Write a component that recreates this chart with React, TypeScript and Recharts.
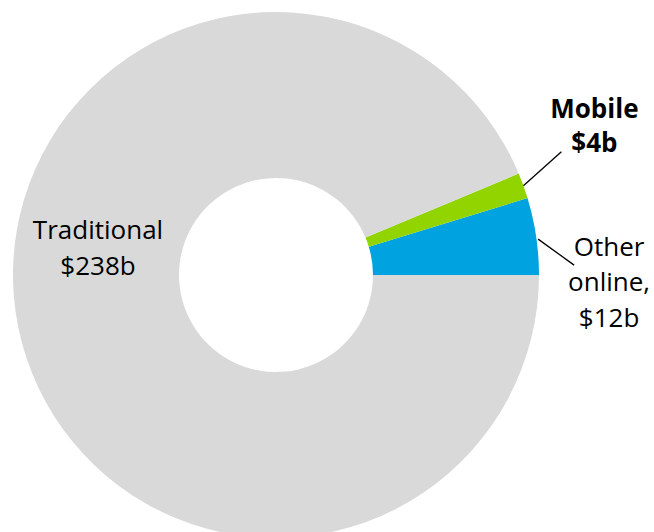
import React from 'react';
import { PieChart, Pie, Cell } from 'recharts';

const categories = ['Other online', 'Mobile', 'Traditional'];
const values = [12, 4, 238];
const labelLines: string[][] = [['Other', 'online,', '$12b'], ['Mobile', '$4b'], ['Traditional', '$238b']];
const colors = ['#00A3E0', '#92D400', '#D9D9D9'];

const data = categories.map((name, i) => ({ name, value: values[i] }));

const RAD = Math.PI / 180;
const FONT = '"Open Sans", sans-serif';
const FS = 26;

const renderLabel = (props: any) => {
  const { cx, cy, midAngle, outerRadius, index } = props;
  const lines = labelLines[index];
  if (index === 2) {
    return (
      <text x={cx - 178} y={cy - 36} textAnchor="middle" fontFamily={FONT} fontSize={FS} fill="#000">
        {lines.map((l, i) => (
          <tspan key={i} x={cx - 178} dy={i === 0 ? 0 : 36}>{l}</tspan>
        ))}
      </text>
    );
  }
  const sx = cx + outerRadius * Math.cos(-midAngle * RAD);
  const sy = cy + outerRadius * Math.sin(-midAngle * RAD);
  if (index === 1) {
    const ex = sx + 38;
    const ey = sy - 34;
    return (
      <g>
        <line x1={sx} y1={sy} x2={ex} y2={ey} stroke="#000" strokeWidth={1.3} />
        <text x={ex + 33} y={ey - 34} textAnchor="middle" fontFamily={FONT} fontSize={FS} fontWeight="bold" fill="#000">
          {lines.map((l, i) => (
            <tspan key={i} x={ex + 33} dy={i === 0 ? 0 : 34.5}>{l}</tspan>
          ))}
        </text>
      </g>
    );
  }
  const ex = sx + 38;
  const ey = sy + 29;
  return (
    <g>
      <line x1={sx + 2} y1={sy + 3} x2={ex} y2={ey} stroke="#000" strokeWidth={1.3} />
      <text x={ex + 35} y={ey - 9.5} textAnchor="middle" fontFamily={FONT} fontSize={FS} fill="#000">
        {lines.map((l, i) => (
          <tspan key={i} x={ex + 35} dy={i === 0 ? 0 : 35.5}>{l}</tspan>
        ))}
      </text>
    </g>
  );
};

export default function App() {
  return (
    <div style={{ position: 'absolute', left: 0, top: 0, width: 654, height: 532, background: '#fff' }}>
      <PieChart width={654} height={532} margin={{ top: 0, right: 0, bottom: 0, left: 0 }}>
        <Pie
          data={data}
          dataKey="value"
          nameKey="name"
          cx={276}
          cy={275}
          innerRadius={97}
          outerRadius={263}
          startAngle={0}
          endAngle={360}
          stroke="none"
          labelLine={false}
          label={renderLabel}
          isAnimationActive={false}
        >
          {data.map((d, i) => (
            <Cell key={d.name} fill={colors[i]} />
          ))}
        </Pie>
      </PieChart>
    </div>
  );
}
